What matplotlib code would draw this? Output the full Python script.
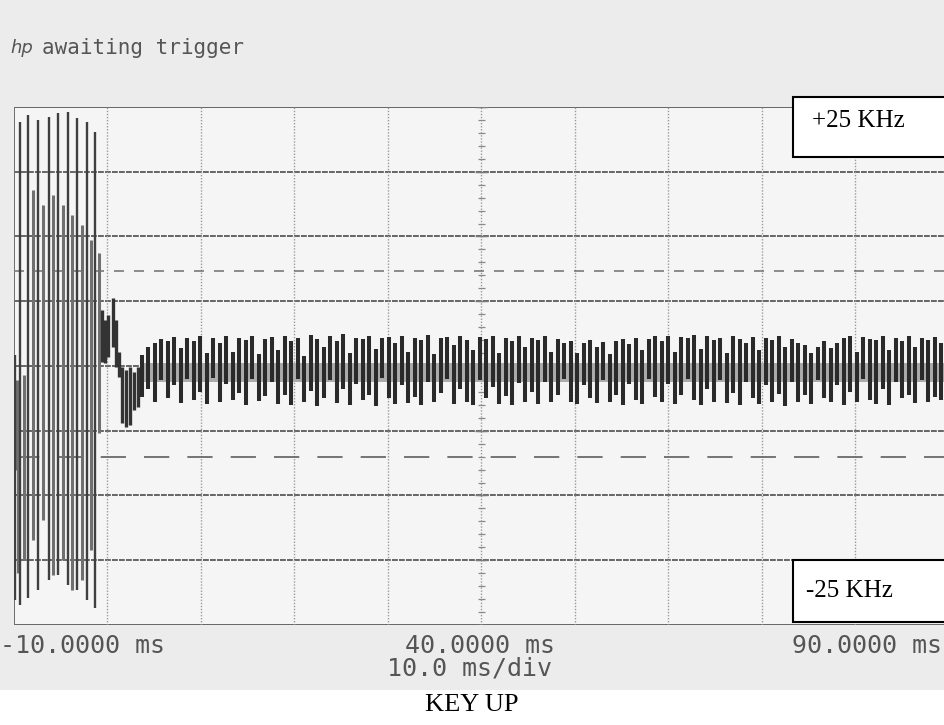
import numpy as np
import matplotlib.pyplot as plt
from matplotlib.patches import Rectangle

# Pantalla del osciloscopio: 10 ms/div en x, 8 divisiones en y
t_min, t_max = -10.0, 90.0
div_y = 4

# Umbrales discontinuos (en divisiones)
umbral_sup = 1.47
umbral_inf = -1.41

# Rafaga inicial (portadora antes de soltar el PTT): t en ms, extremos en div
burst_t = [-9.89, -9.36, -8.50, -7.43, -6.26, -5.29, -4.22, -3.26, -2.19, -1.34]
burst_top = [0.17, 3.77, 3.88, 3.80, 3.85, 3.91, 3.92, 3.83, 3.77, 3.61]
burst_bot = [-3.61, -3.69, -3.58, -3.46, -3.31, -3.23, -3.38, -3.46, -3.61, -3.74]

# Trazos interiores de la rafaga
inner_t = [-9.68, -9.55, -8.93, -7.97, -6.90, -5.83, -4.76, -3.80, -2.73, -1.76, -0.91]
inner_top = [-0.22, -0.30, -0.14, 2.72, 2.49, 2.64, 2.49, 2.33, 2.18, 1.95, 1.75]
inner_bot = [-1.61, -3.20, -3.00, -2.69, -2.38, -3.23, -3.00, -3.46, -3.31, -2.84, -1.03]

# Oscilacion transitoria despues de la rafaga
ring_t = [-0.59, -0.27, 0.05, 0.59, 0.91, 1.23, 1.55, 1.98, 2.41, 2.83, 3.26]
ring_top = [0.86, 0.71, 0.79, 1.05, 0.71, 0.22, -0.02, -0.06, -0.02, -0.09, -0.02]
ring_bot = [0.06, 0.05, 0.14, 0.29, -0.02, -0.17, -0.88, -0.94, -0.91, -0.68, -0.63]

# Regimen estable (muestras cada 0.695 ms desde 3.69 ms)
t0_estable = 3.69
dt_estable = 0.695
est_top = [0.17, 0.30, 0.36, 0.42, 0.38, 0.45, 0.28, 0.44, 0.38, 0.46,
           0.20, 0.43, 0.36, 0.47, 0.22, 0.44, 0.40, 0.46, 0.18, 0.42,
           0.45, 0.25, 0.47, 0.39, 0.44, 0.15, 0.48, 0.42, 0.30, 0.46,
           0.38, 0.49, 0.20, 0.44, 0.41, 0.47, 0.26, 0.43, 0.45, 0.35,
           0.46, 0.22, 0.44, 0.40, 0.48, 0.18, 0.43, 0.45, 0.33, 0.47,
           0.40, 0.24, 0.45, 0.42, 0.46, 0.20, 0.44, 0.38, 0.47, 0.30,
           0.44, 0.40, 0.46, 0.22, 0.42, 0.36, 0.38, 0.20, 0.35, 0.40,
           0.30, 0.37, 0.18, 0.39, 0.42, 0.34, 0.44, 0.25, 0.41, 0.46,
           0.38, 0.47, 0.22, 0.45, 0.43, 0.48, 0.26, 0.46, 0.40, 0.44,
           0.20, 0.47, 0.42, 0.35, 0.45, 0.24, 0.43, 0.40, 0.46, 0.30,
           0.42, 0.36, 0.33, 0.20, 0.30, 0.38, 0.28, 0.35, 0.44, 0.46,
           0.22, 0.45, 0.42, 0.40, 0.47, 0.25, 0.44, 0.38, 0.46, 0.30,
           0.43, 0.40, 0.45, 0.35]
est_bot = [-0.48, -0.36, -0.55, -0.22, -0.50, -0.30, -0.57, -0.20, -0.52, -0.40,
           -0.58, -0.18, -0.55, -0.28, -0.52, -0.42, -0.60, -0.20, -0.54, -0.47,
           -0.25, -0.58, -0.45, -0.60, -0.20, -0.55, -0.38, -0.62, -0.50, -0.22,
           -0.57, -0.35, -0.60, -0.28, -0.52, -0.45, -0.62, -0.18, -0.50, -0.58,
           -0.30, -0.57, -0.48, -0.60, -0.24, -0.55, -0.42, -0.20, -0.58, -0.36,
           -0.55, -0.60, -0.22, -0.50, -0.32, -0.58, -0.46, -0.60, -0.26, -0.55,
           -0.40, -0.58, -0.24, -0.56, -0.45, -0.20, -0.55, -0.58, -0.30, -0.50,
           -0.57, -0.22, -0.55, -0.45, -0.60, -0.28, -0.52, -0.58, -0.20, -0.48,
           -0.56, -0.28, -0.58, -0.45, -0.20, -0.52, -0.60, -0.35, -0.55, -0.22,
           -0.57, -0.42, -0.60, -0.25, -0.50, -0.58, -0.30, -0.55, -0.44, -0.62,
           -0.25, -0.55, -0.45, -0.58, -0.22, -0.50, -0.56, -0.30, -0.60, -0.40,
           -0.55, -0.20, -0.52, -0.58, -0.35, -0.60, -0.25, -0.50, -0.45, -0.57,
           -0.22, -0.55, -0.48, -0.52]
est_t = t0_estable + dt_estable * np.arange(len(est_top))

# Nucleo denso del regimen estable (zona central mas oscura), en div
nucleo_top = 0.05
nucleo_bot = -0.25

# Textos
etiquetas_x = ["-10.0000 ms", "40.0000 ms", "90.0000 ms"]
escala_x = "10.0 ms/div"
titulo = "awaiting trigger"
caja_sup = "+25 KHz"
caja_inf = "-25 KHz"
pie = "KEY UP"

W, H = 945, 725


def fx(x):
    return x / W


def fy(y):
    return 1 - y / H


fig = plt.figure(figsize=(W / 100, H / 100), dpi=100)
fig.patch.set_facecolor("white")
# zona escaneada gris claro
fig.patches.append(Rectangle((0, fy(690)), 1, 690 / H, transform=fig.transFigure,
                             facecolor="#ececec", edgecolor="none", zorder=-10))

ax = fig.add_axes([fx(14), fy(625), 935 / W, 518 / H])
ax.set_facecolor("#f5f5f5")
ax.set_xlim(t_min, t_max)
ax.set_ylim(-div_y, div_y)
ax.set_xticks([])
ax.set_yticks([])
for s in ax.spines.values():
    s.set_visible(False)

# reticula
for yv in range(-div_y, div_y + 1):
    ls = "-" if abs(yv) == div_y else (0, (3, 0.6))
    ax.axhline(yv, color="#666666", lw=1.4, ls=ls, zorder=1)
for xv in np.arange(t_min, t_max + 1, 10):
    if xv == t_min:
        ax.axvline(xv, color="#6e6e6e", lw=1.4, zorder=1)
    else:
        ax.axvline(xv, color="#9a9a9a", lw=1.0, ls=(0, (1, 1.2)), zorder=1)

# marcas en el eje central
marcas = np.arange(-4, 4.01, 0.2)
ax.hlines(marcas, 39.6, 40.4, color="#8a8a8a", lw=0.9, zorder=1)
ax.hlines(np.arange(-4, 5, 1), 39.3, 40.7, color="#7a7a7a", lw=1.0, zorder=1)

# umbrales
ax.axhline(umbral_sup, color="#7a7a7a", lw=1.2, ls=(0, (6, 6)), zorder=1)
ax.axhline(umbral_inf, color="#6a6a6a", lw=1.3, ls=(0, (14, 10)), zorder=1)

# traza
ax.vlines(inner_t, inner_bot, inner_top, color="#707070", lw=2.2, zorder=2)
ax.vlines(burst_t, burst_bot, burst_top, color="#3f3f3f", lw=1.7, zorder=3)
ax.vlines(ring_t, ring_bot, ring_top, color="#333333", lw=2.4, zorder=3)
ax.fill_between([est_t[0], t_max], nucleo_bot, nucleo_top, color="#ababab",
                lw=0, zorder=2)
ax.vlines(est_t, est_bot, est_top, color="#2a2a2a", lw=2.9, zorder=3)

# textos del osciloscopio
gris = "#555555"
mono = "DejaVu Sans Mono"
fig.text(fx(10), fy(48), "hp", fontsize=13, style="italic", color=gris,
         family="DejaVu Sans", va="center", ha="left")
fig.text(fx(42), fy(48), titulo, fontsize=15, color=gris, family=mono,
         va="center", ha="left")
fig.text(fx(0), fy(646), etiquetas_x[0], fontsize=18, color=gris, family=mono,
         va="center", ha="left")
fig.text(fx(480), fy(646), etiquetas_x[1], fontsize=18, color=gris, family=mono,
         va="center", ha="center")
fig.text(fx(942), fy(646), etiquetas_x[2], fontsize=18, color=gris, family=mono,
         va="center", ha="right")
fig.text(fx(470), fy(669), escala_x, fontsize=18, color=gris, family=mono,
         va="center", ha="center")

# cajas de etiqueta
for y0, y1, txt, xt in [(97, 157, caja_sup, 812), (560, 622, caja_inf, 806)]:
    fig.patches.append(Rectangle((fx(793), fy(y1)), (960 - 793) / W, (y1 - y0) / H,
                                 transform=fig.transFigure, facecolor="white",
                                 edgecolor="black", lw=1.5, zorder=5))
    yc = y0 + 24 if txt == caja_sup else (y0 + y1) / 2
    fig.text(fx(xt), fy(yc), txt, fontsize=18, family="Liberation Serif",
             color="black", va="center", ha="left", zorder=6)

fig.text(fx(472), fy(705), pie, fontsize=19, family="Liberation Serif",
         color="black", va="center", ha="center")

plt.savefig("out.png", dpi=100)
